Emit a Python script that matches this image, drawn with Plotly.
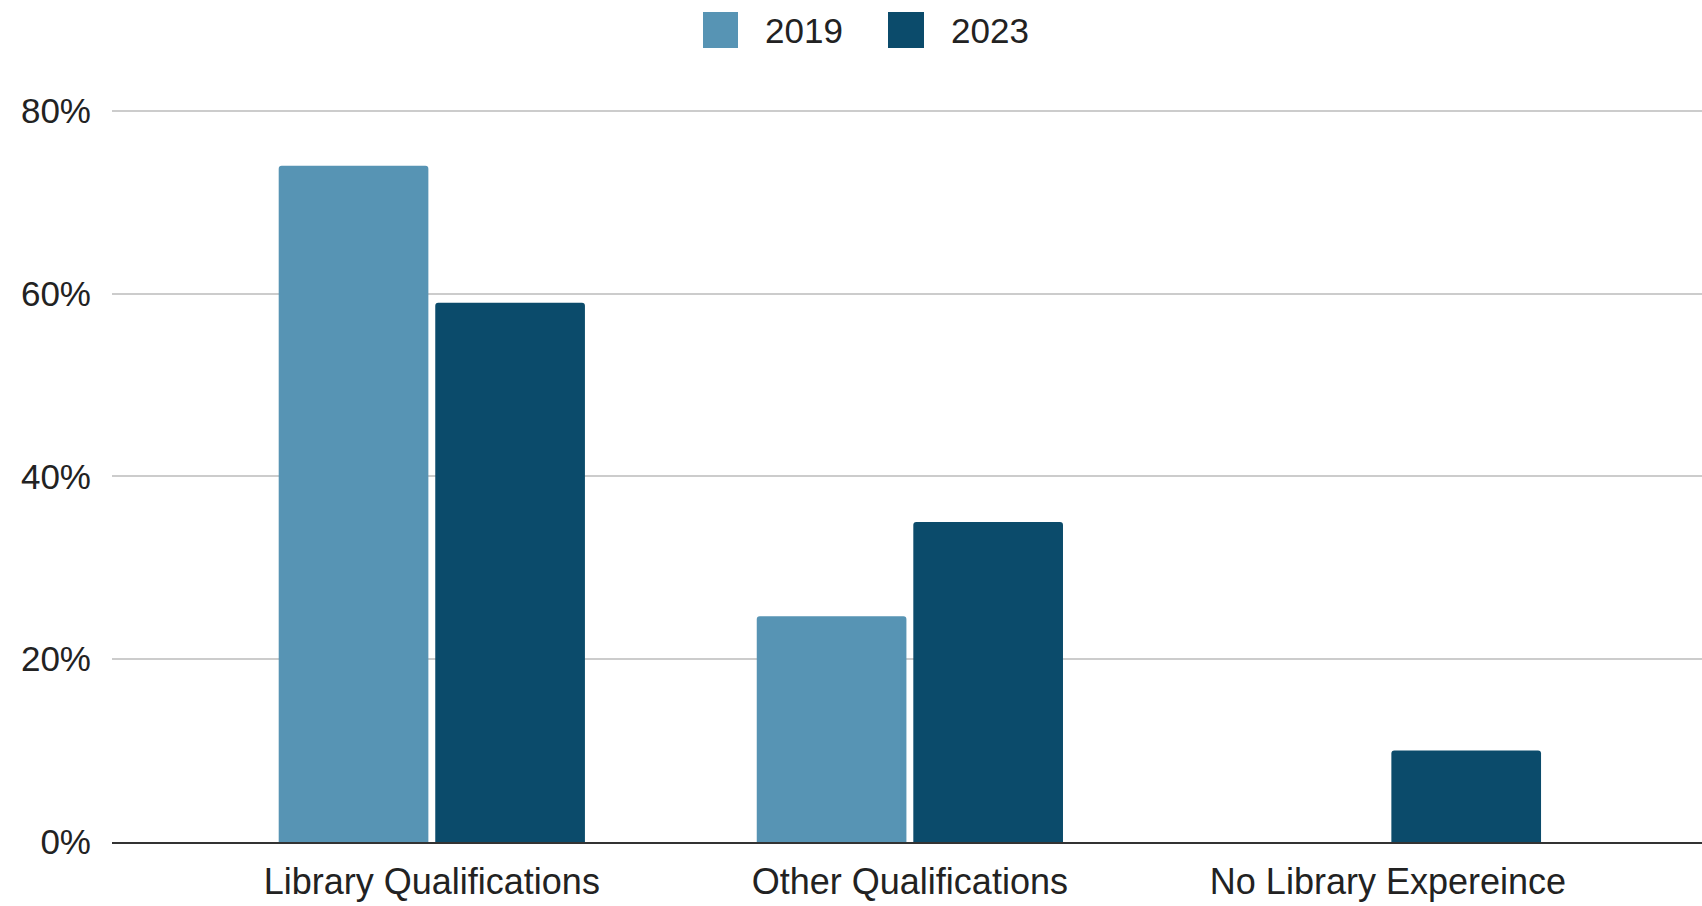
import plotly.graph_objects as go

categories = ["Library Qualifications", "Other Qualifications", "No Library Expereince"]
series_names = ["2019", "2023"]
values_2019 = [0.74, 0.247, 0.0]
values_2023 = [0.59, 0.35, 0.10]
y_ticks = [0, 0.2, 0.4, 0.6, 0.8]

colors = ["#5794b4", "#0b4b6b"]
FONT = "Liberation Sans, Arial, sans-serif"
FS = 35

fig = go.Figure()
for name, vals, col in zip(series_names, [values_2019, values_2023], colors):
    fig.add_trace(go.Bar(
        x=categories, y=vals, name=name, marker=dict(color=col, cornerradius=3, line=dict(width=0)),
        showlegend=False,
    ))

# legend drawn as shapes/annotations to match the large square swatches
legend_x = [(703, 738, 763), (888, 924, 949)]
for (x0, x1, tx), name, col in zip(legend_x, series_names, colors):
    fig.add_shape(type="rect", xref="paper", yref="paper",
                  x0=(x0 - 112) / 1590, x1=(x1 - 112) / 1590,
                  y0=(842 - 48) / 733, y1=(842 - 12) / 733,
                  fillcolor=col, line=dict(width=0), layer="above")
    fig.add_annotation(text=name, xref="paper", yref="paper", x=(tx - 112) / 1590,
                       y=(842 - 30) / 733, xanchor="left", yanchor="middle",
                       showarrow=False, font=dict(family=FONT, size=FS, color="#222222"))

fig.update_layout(
    width=1702, height=906,
    margin=dict(l=112, r=0, t=109, b=64),
    paper_bgcolor="white", plot_bgcolor="white",
    barmode="group", bargap=0.345, bargroupgap=0.044,
    font=dict(family=FONT, size=FS, color="#222222"),
    xaxis=dict(range=[-0.669, 2.657], showgrid=False, showline=True, linecolor="#333333",
               linewidth=2, ticks="", ticklabelstandoff=7, tickfont=dict(size=36),
               automargin=False),
    yaxis=dict(range=[0, 0.802], tickvals=y_ticks, tickformat=".0%", showgrid=True,
               gridcolor="#cccccc", gridwidth=1.5, zeroline=False, showline=False,
               ticklabelstandoff=20, tickfont=dict(size=FS), automargin=False),
)

fig.write_html("out.html", config={"displayModeBar": False},
               post_script="document.body.style.margin='0';document.body.style.overflow='hidden';")
